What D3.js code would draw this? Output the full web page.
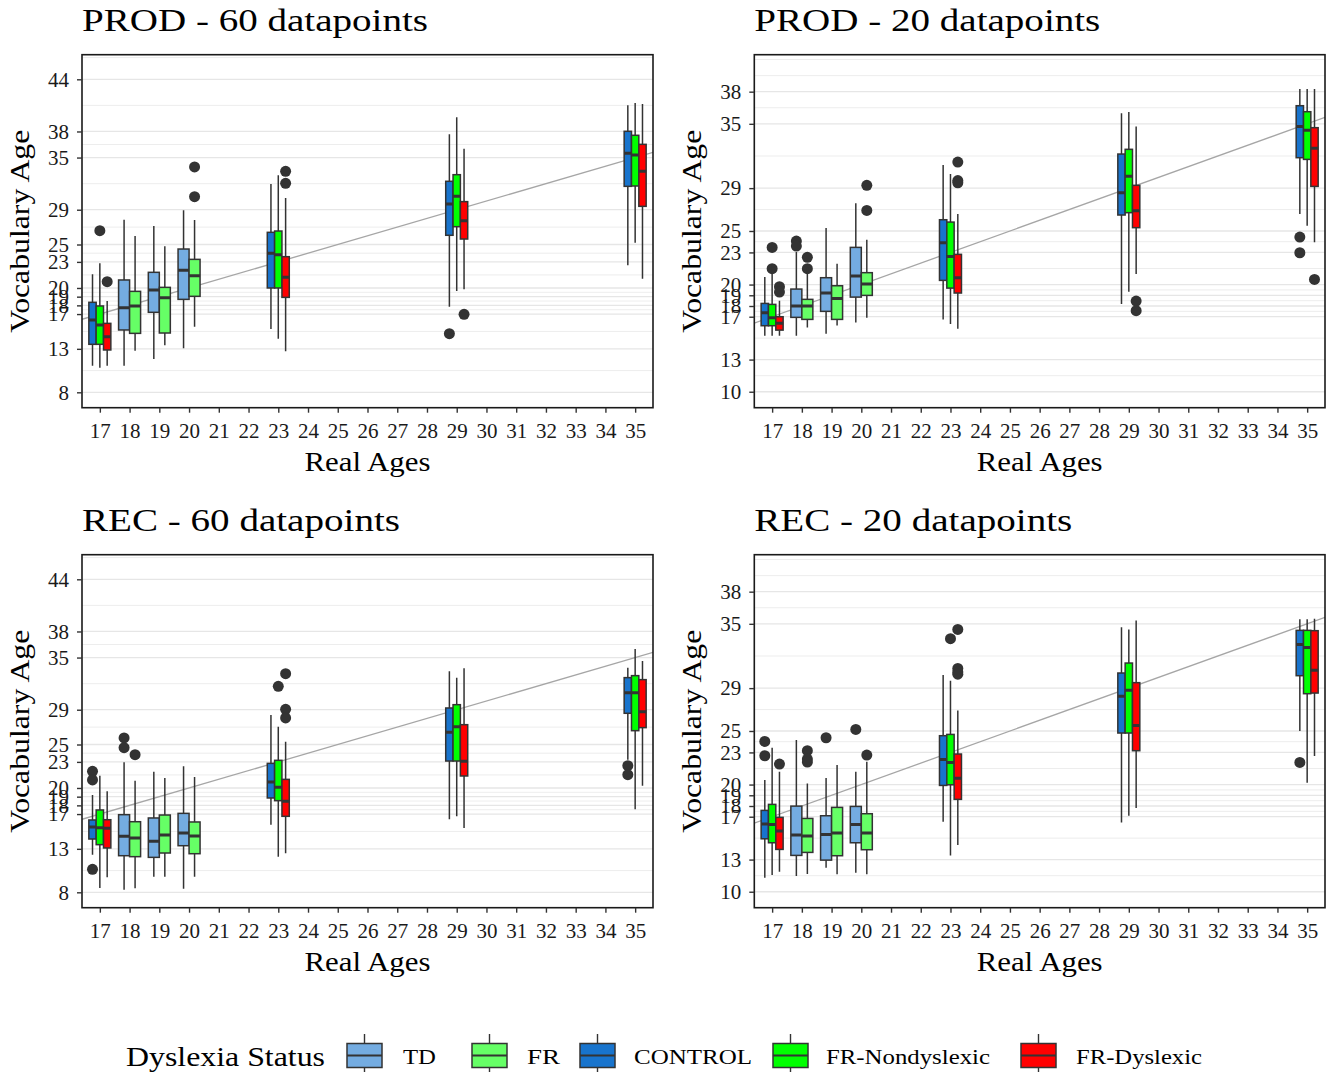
<!DOCTYPE html>
<html><head><meta charset="utf-8">
<script src="https://cdn.jsdelivr.net/npm/d3@7"></script>
<style>body{margin:0;background:#fff}</style>
</head><body>
<svg id="c" width="1332" height="1072"></svg>
<script>
// ---------- data ----------
const ages = [17,18,19,20,21,22,23,24,25,26,27,28,29,30,31,32,33,34,35];
const groupNames = ["TD","FR","CONTROL","FR-Nondyslexic","FR-Dyslexic"];
const ticks60 = [8,13,17,18,19,20,23,25,29,35,38,44];
const ticks20 = [10,13,17,18,19,20,23,25,29,35,38];
// [age, group, lower whisker, Q1, median, Q3, upper whisker, outliers]
const prod60 = [
 [17,"CONTROL",11.06,13.52,16.32,18.35,21.57,[]],
 [17,"FR-Nondyslexic",10.83,13.52,15.74,17.93,22.83,[26.59]],
 [17,"FR-Dyslexic",11.06,12.87,14.4,15.93,18.5,[20.73]],
 [18,"TD",11.06,15.17,17.73,20.92,27.86,[]],
 [18,"FR",12.79,14.78,17.93,19.61,25.98,[]],
 [19,"TD",11.83,17.2,19.77,21.8,27.13,[]],
 [19,"FR",13.4,14.82,18.89,20.07,24.79,[]],
 [20,"TD",13.06,18.69,22.03,24.48,28.93,[]],
 [20,"FR",15.55,19.04,21.42,23.29,27.82,[33.92,30.5]],
 [23,"CONTROL",15.28,20.0,23.98,26.4,31.96,[]],
 [23,"FR-Nondyslexic",14.17,20.0,23.83,26.55,32.96,[]],
 [23,"FR-Dyslexic",12.71,18.92,21.22,23.6,30.35,[33.42,32.04]],
 [29,"CONTROL",17.85,26.06,29.66,32.27,37.67,[14.74]],
 [29,"FR-Nondyslexic",19.65,27.05,30.54,33.03,39.63,[]],
 [29,"FR-Dyslexic",19.84,25.63,27.74,29.93,36.02,[16.97]],
 [35,"CONTROL",22.6,31.69,35.49,38.02,41.01,[]],
 [35,"FR-Nondyslexic",25.21,31.73,35.3,37.56,41.28,[]],
 [35,"FR-Dyslexic",21.07,29.39,33.42,36.52,41.16,[]]
];
const prod20 = [
 [17,"CONTROL",15.22,16.16,17.37,18.24,20.7,[]],
 [17,"FR-Nondyslexic",15.22,16.16,16.9,18.15,21.88,[23.47,21.48]],
 [17,"FR-Dyslexic",15.22,15.75,16.38,17.0,18.49,[19.8,19.3]],
 [18,"TD",15.22,16.94,17.99,19.58,23.03,[24.06,23.59]],
 [18,"FR",16.0,16.75,17.99,18.62,21.6,[22.54,21.48]],
 [19,"TD",15.41,17.5,19.21,20.64,25.27,[]],
 [19,"FR",16.19,16.75,18.71,19.89,21.95,[]],
 [20,"TD",16.47,18.83,20.79,23.47,27.58,[]],
 [20,"FR",16.9,18.99,20.05,21.11,24.19,[29.26,26.92]],
 [23,"CONTROL",16.75,20.39,23.91,26.05,31.15,[]],
 [23,"FR-Nondyslexic",16.31,19.67,22.63,25.83,30.31,[]],
 [23,"FR-Dyslexic",15.88,19.21,20.64,22.82,26.58,[31.43,29.7,29.5]],
 [29,"CONTROL",18.18,26.49,28.57,32.18,35.98,[]],
 [29,"FR-Nondyslexic",19.33,26.71,30.1,32.62,36.1,[]],
 [29,"FR-Dyslexic",20.98,25.31,26.89,29.26,34.76,[18.46,17.56]],
 [35,"CONTROL",26.58,31.84,34.76,36.69,38.25,[24.43,22.97]],
 [35,"FR-Nondyslexic",25.49,31.68,34.39,36.13,38.25,[]],
 [35,"FR-Dyslexic",23.94,29.16,32.71,34.64,38.25,[20.48]]
];
const rec60 = [
 [17,"CONTROL",12.33,14.13,15.51,16.32,19.19,[21.91,20.92,10.64]],
 [17,"FR-Nondyslexic",8.49,13.48,15.43,17.47,21.42,[]],
 [17,"FR-Dyslexic",9.72,13.1,15.36,16.35,19.61,[]],
 [18,"TD",8.3,12.21,14.44,16.93,22.95,[25.75,24.64]],
 [18,"FR",8.46,12.1,14.25,16.12,20.84,[23.83]],
 [19,"TD",9.8,12.02,13.86,16.55,21.88,[]],
 [19,"FR",9.8,12.52,14.59,16.89,21.15,[]],
 [20,"TD",8.42,13.36,14.82,17.08,22.49,[]],
 [20,"FR",9.8,12.44,14.48,16.09,21.26,[]],
 [23,"CONTROL",15.78,18.85,20.69,22.83,28.39,[]],
 [23,"FR-Nondyslexic",12.1,18.54,20.07,23.18,27.05,[31.69]],
 [23,"FR-Dyslexic",12.48,16.74,18.46,20.99,25.33,[33.15,29.05,28.05]],
 [29,"CONTROL",16.39,23.1,26.4,29.2,33.42,[]],
 [29,"FR-Nondyslexic",16.74,23.1,27.05,29.58,32.69,[]],
 [29,"FR-Dyslexic",15.4,21.38,23.06,27.28,33.76,[]],
 [35,"CONTROL",23.26,28.59,30.96,32.69,33.84,[22.57,21.53]],
 [35,"FR-Nondyslexic",17.54,26.59,30.96,32.92,35.99,[]],
 [35,"FR-Dyslexic",20.27,26.94,28.78,32.46,34.61,[]]
];
const rec20 = [
 [17,"CONTROL",11.3,14.94,16.31,17.59,20.42,[24.03,22.69]],
 [17,"FR-Nondyslexic",11.55,14.57,16.28,18.15,23.44,[]],
 [17,"FR-Dyslexic",11.86,13.95,15.66,16.94,21.2,[21.91]],
 [18,"TD",11.46,13.39,15.29,17.99,24.15,[]],
 [18,"FR",11.65,13.67,15.19,16.84,20.11,[23.16,22.38,22.1]],
 [19,"TD",12.24,12.95,15.35,17.09,20.61,[24.37]],
 [19,"FR",11.62,13.36,15.47,17.87,21.82,[]],
 [20,"TD",11.77,14.57,16.28,17.96,21.2,[25.15]],
 [20,"FR",11.62,13.92,15.47,17.28,22.13,[22.75]],
 [23,"CONTROL",16.53,19.92,22.35,24.56,30.22,[]],
 [23,"FR-Nondyslexic",13.39,19.98,22.07,24.68,29.69,[33.61]],
 [23,"FR-Dyslexic",14.35,18.62,20.58,22.85,26.92,[34.48,30.84,30.5,30.3]],
 [29,"CONTROL",16.47,24.81,28.23,30.41,34.67,[]],
 [29,"FR-Nondyslexic",17.09,24.81,28.79,31.34,34.48,[]],
 [29,"FR-Dyslexic",17.81,23.16,25.52,29.51,35.32,[]],
 [35,"CONTROL",24.99,30.16,33.08,34.39,35.42,[22.07]],
 [35,"FR-Nondyslexic",20.17,28.48,32.8,34.39,35.42,[]],
 [35,"FR-Dyslexic",22.66,28.54,30.66,34.36,35.48,[]]
];

// ---------- styles ----------
const FONT = "'Liberation Serif','Times New Roman',serif";
const fillOf = {"TD":"#1874CD","FR":"#00FF00","CONTROL":"#1874CD","FR-Nondyslexic":"#00FF00","FR-Dyslexic":"#FF0000"};
const opOf = {"TD":0.6,"FR":0.6,"CONTROL":1,"FR-Nondyslexic":1,"FR-Dyslexic":1};
const INK = "#333333";

const svg = d3.select("#c");
svg.append("rect").attr("width",1332).attr("height",1072).attr("fill","#fff");

const PH = 353;
const panels = [
 {title:"PROD - 60 datapoints", tw:346, data:prod60, ticks:ticks60, dom:[6.23,46.83], left:82, right:653, top:54.7},
 {title:"PROD - 20 datapoints", tw:346, data:prod20, ticks:ticks20, dom:[8.51,41.45], left:754.3, right:1325, top:54.7},
 {title:"REC - 60 datapoints", tw:318, data:rec60, ticks:ticks60, dom:[6.23,46.83], left:82, right:653, top:554.7},
 {title:"REC - 20 datapoints", tw:318, data:rec20, ticks:ticks20, dom:[8.51,41.45], left:754.3, right:1325, top:554.7}
];

function minorBreaks(b, dom){
  const bd = b[1]-b[0];
  const bb = b.slice();
  if (dom[0] < bb[0]) bb.unshift(bb[0]-bd);
  if (dom[1] > bb[bb.length-1]) bb.push(bb[bb.length-1]+bd);
  const out = [];
  for (let i=0;i<bb.length-1;i++){ out.push(bb[i], (bb[i]+bb[i+1])/2); }
  out.push(bb[bb.length-1]);
  return out.filter(v => v>=dom[0] && v<=dom[1] && !b.includes(v));
}

panels.forEach((p, pi) => {
  const bottom = p.top + PH;
  const x = d3.scalePoint().domain(ages).range([p.left, p.right]).padding(0.6);
  const y = d3.scaleLinear().domain(p.dom).range([bottom, p.top]);
  const g = svg.append("g");
  const cid = "clip"+pi;
  svg.append("clipPath").attr("id",cid).append("rect")
    .attr("x",p.left).attr("y",p.top).attr("width",p.right-p.left).attr("height",PH);

  // grid
  const grid = g.append("g").attr("clip-path",`url(#${cid})`);
  grid.selectAll("line.minor").data(minorBreaks(p.ticks,p.dom)).join("line")
    .attr("x1",p.left).attr("x2",p.right).attr("y1",d=>y(d)).attr("y2",d=>y(d))
    .attr("stroke","#ebebeb").attr("stroke-width",0.9);
  grid.selectAll("line.major").data(p.ticks).join("line")
    .attr("x1",p.left).attr("x2",p.right).attr("y1",d=>y(d)).attr("y2",d=>y(d))
    .attr("stroke","#e6e6e6").attr("stroke-width",1.3);

  // identity line
  const xl = d3.scaleLinear().domain([16.4,35.6]).range([p.left,p.right]);
  grid.append("line")
    .attr("x1",p.left).attr("y1",y(16.4)).attr("x2",p.right).attr("y2",y(35.6))
    .attr("stroke","#a6a6a6").attr("stroke-width",1.3);

  // boxes
  const step = x.step();
  const dodgeW = 0.74*step;
  const byAge = d3.group(p.data, d=>d[0]);
  const bx = g.append("g").attr("clip-path",`url(#${cid})`);
  p.data.forEach(d => {
    const grp = byAge.get(d[0]);
    const n = grp.length, k = grp.indexOf(d);
    const bw = dodgeW/n;
    const x0 = x(d[0]) - dodgeW/2 + k*bw;
    const cx = x0 + bw/2;
    const bgrp = bx.append("g");
    bgrp.selectAll("circle").data(d[7]).join("circle")
      .attr("cx",cx).attr("cy",v=>y(v)).attr("r",5.5).attr("fill",INK);
    bgrp.append("line").attr("x1",cx).attr("x2",cx).attr("y1",y(d[5])).attr("y2",y(d[6]))
      .attr("stroke",INK).attr("stroke-width",1.5);
    bgrp.append("line").attr("x1",cx).attr("x2",cx).attr("y1",y(d[3])).attr("y2",y(d[2]))
      .attr("stroke",INK).attr("stroke-width",1.5);
    bgrp.append("rect").attr("x",x0).attr("width",bw).attr("y",y(d[5])).attr("height",y(d[3])-y(d[5]))
      .attr("fill","#fff");
    bgrp.append("rect").attr("x",x0).attr("width",bw).attr("y",y(d[5])).attr("height",y(d[3])-y(d[5]))
      .attr("fill",fillOf[d[1]]).attr("fill-opacity",opOf[d[1]])
      .attr("stroke",INK).attr("stroke-width",1.5);
    bgrp.append("line").attr("x1",x0).attr("x2",x0+bw).attr("y1",y(d[4])).attr("y2",y(d[4]))
      .attr("stroke",INK).attr("stroke-width",3);
  });

  // border
  g.append("rect").attr("x",p.left).attr("y",p.top).attr("width",p.right-p.left).attr("height",PH)
    .attr("fill","none").attr("stroke","#1a1a1a").attr("stroke-width",1.6);

  // axes
  const ax = g.append("g").attr("transform",`translate(0,${bottom})`)
    .call(d3.axisBottom(x).tickSize(5).tickPadding(10.5));
  const ay = g.append("g").attr("transform",`translate(${p.left},0)`)
    .call(d3.axisLeft(y).tickValues(p.ticks).tickFormat(d3.format("d")).tickSize(5).tickPadding(8));
  [ax, ay].forEach(a => {
    a.select(".domain").remove();
    a.selectAll(".tick line").attr("stroke",INK).attr("stroke-width",1.4);
    a.selectAll(".tick text").attr("fill","#1a1a1a").style("font-family",FONT).style("font-size","21px");
  });

  // titles
  g.append("text").attr("x",p.left).attr("y",p.top-23.7).text(p.title)
    .style("font-family",FONT).style("font-size","31px").attr("fill","#000")
    .attr("textLength",p.tw).attr("lengthAdjust","spacingAndGlyphs");
  g.append("text").attr("x",(p.left+p.right)/2).attr("y",bottom+63.5).attr("text-anchor","middle")
    .text("Real Ages").style("font-family",FONT).style("font-size","27px").attr("fill","#000")
    .attr("textLength",126).attr("lengthAdjust","spacingAndGlyphs");
  g.append("text").attr("transform",`translate(${p.left-53},${p.top+PH/2}) rotate(-90)`)
    .attr("text-anchor","middle").text("Vocabulary Age")
    .style("font-family",FONT).style("font-size","27px").attr("fill","#000")
    .attr("textLength",203).attr("lengthAdjust","spacingAndGlyphs");
});

// ---------- legend ----------
const lg = svg.append("g");
lg.append("text").attr("x",126).attr("y",1066).text("Dyslexia Status")
  .style("font-family",FONT).style("font-size","27px").attr("fill","#000")
  .attr("textLength",199).attr("lengthAdjust","spacingAndGlyphs");
const keyX = [347,472,580,773,1021];
const labX = [403,527,634,826,1076];
const labW = [33,33,118,164,126];
groupNames.forEach((nm,i) => {
  const kx = keyX[i], kw = 35, cx = kx+kw/2;
  lg.append("line").attr("x1",cx).attr("x2",cx).attr("y1",1034).attr("y2",1072).attr("stroke",INK).attr("stroke-width",1.4);
  lg.append("rect").attr("x",kx).attr("y",1043.5).attr("width",kw).attr("height",24).attr("fill","#fff");
  lg.append("rect").attr("x",kx).attr("y",1043.5).attr("width",kw).attr("height",24)
    .attr("fill",fillOf[nm]).attr("fill-opacity",opOf[nm]).attr("stroke",INK).attr("stroke-width",1.5);
  lg.append("line").attr("x1",kx).attr("x2",kx+kw).attr("y1",1055.5).attr("y2",1055.5).attr("stroke",INK).attr("stroke-width",2.2);
  lg.append("text").attr("x",labX[i]).attr("y",1063.5).text(nm)
    .style("font-family",FONT).style("font-size","22px").attr("fill","#000")
    .attr("textLength",labW[i]).attr("lengthAdjust","spacingAndGlyphs");
});
</script>
</body></html>
